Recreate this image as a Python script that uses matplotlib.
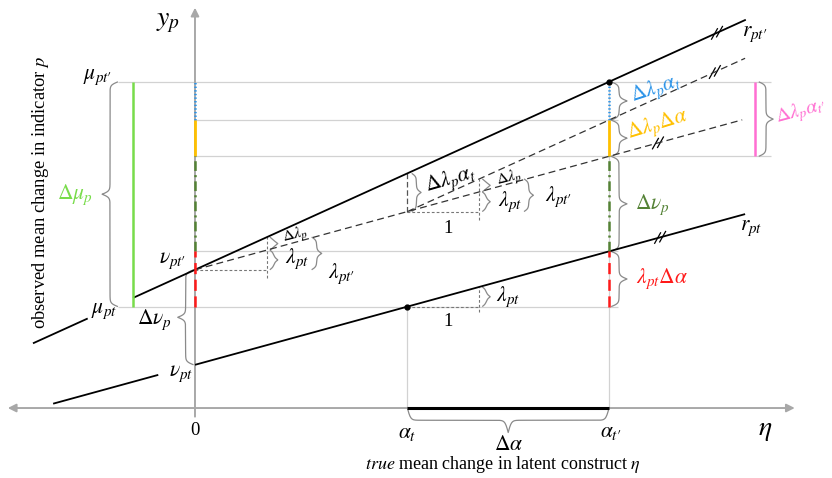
import numpy as np
import matplotlib.pyplot as plt

plt.rcParams['mathtext.fontset'] = 'stix'
plt.rcParams['font.family'] = ['Liberation Serif', 'DejaVu Serif']
plt.rcParams['lines.scale_dashes'] = False
plt.rcParams['lines.solid_capstyle'] = 'butt'
plt.rcParams['lines.dash_capstyle'] = 'butt'

# latent means at occasions t and t'
alpha_t = 2.95
alpha_t2 = 5.75
# intercepts and loadings of indicator p
nu_t = 0.60
nu_t2 = 1.92
lam_t = 0.274
lam_t2 = 0.454

# visible ranges (eta, y_p)
eta_range = [-2.708, 8.847]
y_range = [-0.972, 5.667]


def r_t(e):
    return nu_t + lam_t * np.asarray(e)


def r_t2(e):
    return nu_t2 + lam_t2 * np.asarray(e)


def dash1(e):
    return nu_t2 + lam_t * np.asarray(e)


def dash2(e):
    return dash1(alpha_t) + lam_t2 * (np.asarray(e) - alpha_t)


mu_t = r_t(alpha_t)
mu_t2 = r_t2(alpha_t2)
y_yel = dash2(alpha_t2)
y_grn = dash1(alpha_t2)
y_red = r_t(alpha_t2)

AX = '#a8a8a8'
LIGHT = '#d2d2d2'
BR = '#8a8a8a'
BLUE = '#2a93e8'
YEL = '#ffc000'
DGREEN = '#548235'
RED = '#ff1a1a'
LIME = '#78dc4a'
PINK = '#ff6fd2'

fig = plt.figure(figsize=(8.32, 4.78), dpi=100)
ax = fig.add_axes([0, 0, 1, 1])
ax.set_xlim(eta_range)
ax.set_ylim(y_range)
ax.axis('off')


def brace(a, b, pos, w, sign=1, vertical=True, k=45, color=BR, lw=0.9):
    L = b - a
    t = np.linspace(0, L / 2, 200)
    sig = lambda z: 1 / (1 + np.exp(-z))
    p = sig(k * t) + sig(k * (t - L / 2)) - 0.5
    p = p - p[0]
    p = p / p[-1]
    s = np.concatenate([a + t, b - t[::-1]])
    q = np.concatenate([p, p[::-1]])
    d = pos + sign * w * q
    if vertical:
        ax.plot(d, s, color=color, lw=lw)
    else:
        ax.plot(s, d, color=color, lw=lw)


def breakmark(e0, f):
    for off in (-0.035, 0.035):
        xc = e0 + off
        yc = f(xc)
        ax.plot([xc - 0.045, xc + 0.045], [yc - 0.08, yc + 0.08], color='k', lw=0.9)


# gray guide lines
for yv, x0, x1 in [(mu_t2, -1.07, 8.0), (y_yel, 0, 5.87), (y_grn, 0, 8.0),
                   (y_red, 0, 5.87), (mu_t, -1.07, 5.87)]:
    ax.plot([x0, x1], [yv, yv], color=LIGHT, lw=0.9, zorder=1)
ax.plot([alpha_t, alpha_t], [0, mu_t], color=LIGHT, lw=0.9, zorder=1)
ax.plot([alpha_t2, alpha_t2], [0, mu_t2], color=LIGHT, lw=0.9, zorder=1)

# axes
ax.annotate('', xy=(8.33, 0), xytext=(-2.6, 0),
            arrowprops=dict(arrowstyle='<|-|>', color=AX, lw=1.4,
                            mutation_scale=12, shrinkA=0, shrinkB=0))
ax.annotate('', xy=(0, 5.56), xytext=(0, -0.12),
            arrowprops=dict(arrowstyle='-|>', color=AX, lw=1.4,
                            mutation_scale=12, shrinkA=0, shrinkB=0))
ax.plot([alpha_t, alpha_t2], [0, 0], color='k', lw=2.2, zorder=3)

# regression lines
for seg in ([-2.25, -1.49], [-0.86, 7.65]):
    e = np.array(seg)
    ax.plot(e, r_t2(e), color='k', lw=1.3, zorder=3)
for seg in ([-1.97, -0.51], [0, 7.64]):
    e = np.array(seg)
    ax.plot(e, r_t(e), color='k', lw=1.3, zorder=3)
e = np.array([0, 7.6])
ax.plot(e, dash1(e), color='#333333', lw=0.9, dashes=(5, 3), zorder=3)
e = np.array([alpha_t, 7.64])
ax.plot(e, dash2(e), color='#333333', lw=0.9, dashes=(5, 3), zorder=3)

breakmark(7.25, r_t2)
breakmark(7.22, dash2)
breakmark(6.43, dash1)
breakmark(6.46, r_t)

# coloured decomposition segments (at eta=0 and at alpha_t')
for xs in (0, alpha_t2):
    ax.plot([xs, xs], [y_yel, mu_t2], color=BLUE, lw=1.8, dashes=(1, 1.6), zorder=4)
    ax.plot([xs, xs], [y_grn, y_yel], color=YEL, lw=2.0, zorder=4)
    ax.plot([xs, xs], [y_red, y_grn], color=DGREEN, lw=1.8, dashes=(7, 3, 1.5, 3), zorder=4)
    ax.plot([xs, xs], [mu_t, y_red], color=RED, lw=1.8, dashes=(8, 4), zorder=4)
ax.plot([-0.86, -0.86], [mu_t, mu_t2], color=LIME, lw=1.8, zorder=4)
ax.plot([7.78, 7.78], [y_grn, mu_t2], color=PINK, lw=1.8, zorder=4)

ax.plot([alpha_t, alpha_t2], [mu_t, mu_t2], 'o', color='k', ms=3.5, zorder=5)

# slope triangles
tri = dict(color='#777777', lw=0.8, dashes=(2, 1.5), zorder=2)
ax.plot([0, 1], [nu_t2, nu_t2], **tri)
ax.plot([1, 1], [nu_t2 - 0.12, r_t2(1)], **tri)
ax.plot([alpha_t, alpha_t + 1], [dash1(alpha_t)] * 2, **tri)
ax.plot([alpha_t + 1, alpha_t + 1], [dash1(alpha_t) - 0.11, dash2(alpha_t + 1)], **tri)
ax.plot([alpha_t, alpha_t], [dash1(alpha_t), r_t2(alpha_t)], color='#555555', lw=0.9,
        dashes=(4, 2), zorder=2)
ax.plot([alpha_t, alpha_t + 1], [mu_t, mu_t], **tri)
ax.plot([alpha_t + 1, alpha_t + 1], [mu_t - 0.08, r_t(alpha_t + 1)], **tri)

# braces
brace(mu_t, mu_t2, -1.07, 0.22, sign=-1)
brace(r_t(0), nu_t2, -0.02, 0.22, sign=-1)
for a, b in [(y_yel, mu_t2), (y_grn, y_yel), (y_red, y_grn), (mu_t, y_red)]:
    brace(a, b, alpha_t2 + 0.03, 0.22)
brace(y_grn, mu_t2, 7.83, 0.2)
brace(alpha_t, alpha_t2, 0, 0.34, sign=-1, vertical=False)
brace(dash1(1), r_t2(1), 1.04, 0.11)
brace(nu_t2, dash1(1), 1.04, 0.11)
brace(nu_t2, r_t2(1), 1.62, 0.14)
brace(dash1(alpha_t), r_t2(alpha_t), alpha_t + 0.06, 0.13)
brace(dash1(alpha_t + 1), dash2(alpha_t + 1), alpha_t + 1.04, 0.11)
brace(dash1(alpha_t), dash1(alpha_t + 1), alpha_t + 1.04, 0.11)
brace(dash1(alpha_t), dash2(alpha_t + 1), alpha_t + 1.62, 0.13)
brace(mu_t, r_t(alpha_t + 1), alpha_t + 1.04, 0.11)

# labels
M = 15.5
c = dict(ha='center', va='center')
ax.text(-0.375, 5.35, r'$y_p$', fontsize=20, **c)
ax.text(0, -0.31, '0', fontsize=13.5, **c)
ax.text(alpha_t, -0.35, r'$\alpha_t$', fontsize=M, **c)
ax.text(alpha_t2 + 0.02, -0.34, r"$\alpha_{t\prime}$", fontsize=M, **c)
ax.text((alpha_t + alpha_t2) / 2, -0.52, r'$\Delta\alpha$', fontsize=M, **c)
ax.text(7.92, -0.31, r'$\eta$', fontsize=20, **c)
ax.text(4.28, -0.79, r'$\mathit{true}$ mean change in latent construct $\eta$', fontsize=13, **c)
ax.text(-2.15, 3.0, r'observed mean change in indicator $p$', fontsize=13.3,
        rotation=90, **c)

ax.text(-1.36, 4.6, r"$\mu_{pt\prime}$", fontsize=M, **c)
ax.text(-1.67, 2.96, r'$\Delta\mu_p$', fontsize=M, color=LIME, **c)
ax.text(-1.27, 1.34, r'$\mu_{pt}$', fontsize=M, **c)
ax.text(-0.31, 2.05, r"$\nu_{pt\prime}$", fontsize=M, **c)
ax.text(-0.56, 1.22, r'$\Delta\nu_p$', fontsize=M, **c)
ax.text(-0.2, 0.47, r'$\nu_{pt}$', fontsize=M, **c)

ax.text(1.4, 2.39, r'$\Delta\lambda_p$', fontsize=11.5, rotation=14, **c)
ax.text(1.42, 2.08, r'$\lambda_{pt}$', fontsize=M, **c)
ax.text(2.04, 1.87, r"$\lambda_{pt\prime}$", fontsize=M, **c)

ax.text(alpha_t + 0.6, 3.17, r'$\Delta\lambda_p\alpha_t$', fontsize=M, rotation=16, **c)
ax.text(alpha_t + 1.42, 3.18, r'$\Delta\lambda_p$', fontsize=11.5, rotation=14, **c)
ax.text(alpha_t + 1.42, 2.86, r'$\lambda_{pt}$', fontsize=M, **c)
ax.text(alpha_t + 2.1, 2.94, r"$\lambda_{pt\prime}$", fontsize=M, **c)
ax.text(alpha_t + 0.56, 2.5, '1', fontsize=13.5, **c)
ax.text(alpha_t + 1.4, 1.54, r'$\lambda_{pt}$', fontsize=M, **c)
ax.text(alpha_t + 0.56, 1.2, '1', fontsize=13.5, **c)

ax.text(alpha_t2 + 0.66, 4.43, r'$\Delta\lambda_p\alpha_t$', fontsize=M, color=BLUE,
        rotation=18, **c)
ax.text(alpha_t2 + 0.68, 3.93, r'$\Delta\lambda_p\Delta\alpha$', fontsize=M, color=YEL,
        rotation=17, **c)
ax.text(alpha_t2 + 0.6, 2.83, r'$\Delta\nu_p$', fontsize=M, color=DGREEN, **c)
ax.text(alpha_t2 + 0.74, 1.79, r'$\lambda_{pt}\Delta\alpha$', fontsize=M, color=RED, **c)
ax.text(8.42, 4.12, r"$\Delta\lambda_p\alpha_{t\prime}$", fontsize=14.5, color=PINK,
        rotation=15, **c)
ax.text(7.77, 5.19, r"$r_{pt\prime}$", fontsize=M, **c)
ax.text(7.72, 2.5, r'$r_{pt}$', fontsize=M, **c)

fig.savefig('out.png', dpi=100)
